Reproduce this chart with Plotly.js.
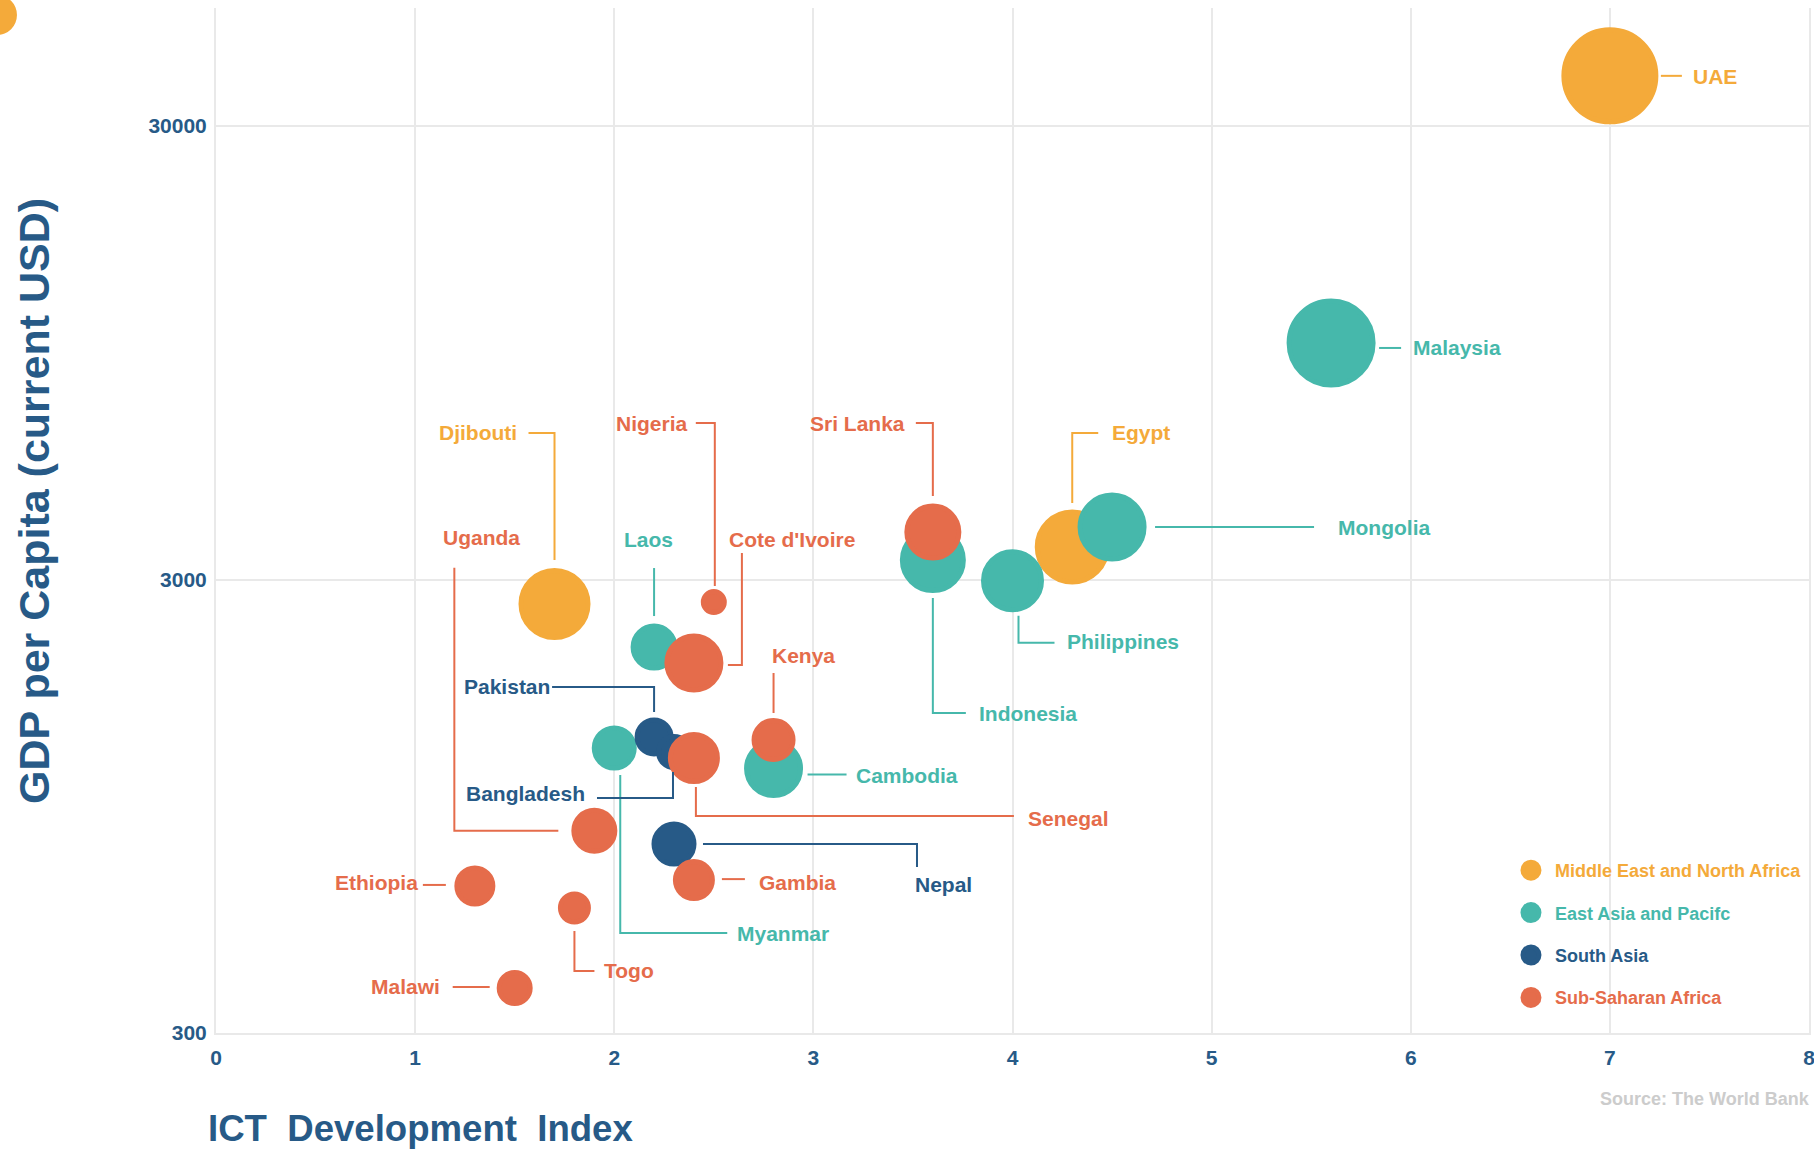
<!DOCTYPE html>
<html>
<head>
<meta charset="utf-8">
<script src="https://cdn.plot.ly/plotly-3.0.1.min.js"></script>
<style>
  html, body { margin: 0; padding: 0; background: #ffffff; }
  #chart { width: 1814px; height: 1152px; }
</style>
</head>
<body>
<div id="chart"></div>
<script>
// ---------------- DATA ----------------
const regions = ["Middle East and North Africa", "East Asia and Pacifc", "South Asia", "Sub-Saharan Africa"];

const countries = ["UAE", "Egypt", "Djibouti",
  "Malaysia", "Mongolia", "Philippines", "Indonesia", "Laos", "Cambodia", "Myanmar",
  "Pakistan", "Bangladesh", "Nepal", "Sri Lanka",
  "Nigeria", "Cote d'Ivoire", "Kenya", "Senegal", "Uganda", "Gambia", "Ethiopia", "Togo", "Malawi"];

const countryRegion = [0, 0, 0,
  1, 1, 1, 1, 1, 1, 1,
  2, 2, 2, 3,
  3, 3, 3, 3, 3, 3, 3, 3, 3];

// ICT Development Index
const ictIndex = [7.0, 4.3, 1.7,
  5.6, 4.5, 4.0, 3.6, 2.2, 2.8, 2.0,
  2.2, 2.3, 2.3, 3.6,
  2.5, 2.4, 2.8, 2.4, 1.9, 2.4, 1.3, 1.8, 1.5];

// GDP per capita (current USD)
const gdpPerCapita = [38700, 3540, 2650,
  9970, 3915, 2980, 3311, 2129, 1149, 1275,
  1348, 1249, 783, 3816,
  2675, 1963, 1328, 1212, 838, 652, 633, 566, 377];

// bubble size (marker diameter)
const bubbleSize = [97, 75, 72,
  89, 69, 63, 66, 47, 59, 45,
  39, 36, 45, 57,
  26, 59, 44, 52, 46, 42, 41, 33, 36];

const xTickVals = [0, 1, 2, 3, 4, 5, 6, 7, 8];
const yTickVals = [300, 3000, 30000];
const yTickText = ["300", "3000", "30000"];

// ---------------- STYLE / LAYOUT CONFIG ----------------
const regionColors = ["#F4AA3A", "#46B8AB", "#275A87", "#E56C4B"];
const NAVY = "#275A87";
const GRID = "#E9E9E9";
const FONT = "Liberation Sans, Arial, Helvetica, sans-serif";
const OUTLINE = 5; // marker outline (same colour as fill)

// label placement: offsets in pixels from bubble centre (dy positive = down)
const labelPlacement = {
  "UAE":          {dx: 81,   dy: 1,    anchor: "left",   path: [[51, 0], [72, 0]]},
  "Malaysia":     {dx: 80,   dy: 5,    anchor: "left",   path: [[48, 5], [70, 5]]},
  "Mongolia":     {dx: 224,  dy: 0,    anchor: "left",   path: [[43, 0], [202, 0]]},
  "Egypt":        {dx: 38,   dy: -114, anchor: "left",   path: [[0, -44], [0, -114], [26, -114]]},
  "Philippines":  {dx: 52,   dy: 61,   anchor: "left",   path: [[6, 35], [6, 62], [42, 62]]},
  "Sri Lanka":    {dx: -26,  dy: -109, anchor: "right",  path: [[0, -36], [0, -109], [-17, -109]]},
  "Indonesia":    {dx: 44,   dy: 153,  anchor: "left",   path: [[0, 38], [0, 153], [33, 153]]},
  "Djibouti":     {dx: -36,  dy: -171, anchor: "right",  path: [[0, -44], [0, -171], [-26, -171]]},
  "Nigeria":      {dx: -24,  dy: -179, anchor: "right",  path: [[1, -16], [1, -179], [-18, -179]]},
  "Laos":         {dx: -6,   dy: -108, anchor: "center", path: [[0, -31], [0, -79]]},
  "Cote d'Ivoire":{dx: 33,   dy: -124, anchor: "left",   path: [[48, -110], [48, 2], [34, 2]]},
  "Kenya":        {dx: -4,   dy: -85,  anchor: "left",   path: [[0, -27], [0, -67]]},
  "Cambodia":     {dx: 80,   dy: 7,    anchor: "left",   path: [[34, 6], [73, 6]]},
  "Pakistan":     {dx: -102, dy: -51,  anchor: "right",  path: [[-102, -50], [0, -50], [0, -25]]},
  "Myanmar":      {dx: 121,  dy: 185,  anchor: "left",   path: [[6, 27], [6, 185], [113, 185]]},
  "Bangladesh":   {dx: -87,  dy: 41,   anchor: "right",  path: [[-77, 46], [-1, 46], [-1, 20]]},
  "Senegal":      {dx: 332,  dy: 60,   anchor: "left",   path: [[2, 29], [2, 58], [320, 58]]},
  "Uganda":       {dx: -153, dy: -293, anchor: "left",   path: [[-140, -263], [-140, 0], [-36, 0]]},
  "Nepal":        {dx: 239,  dy: 40,   anchor: "left",   path: [[29, 0], [243, 0], [243, 23]]},
  "Gambia":       {dx: 63,   dy: 2,    anchor: "left",   path: [[28, -1], [51, -1]]},
  "Ethiopia":     {dx: -55,  dy: -3,   anchor: "right",  path: [[-52, -1], [-29, -1]]},
  "Togo":         {dx: 28,   dy: 63,   anchor: "left",   path: [[0, 23], [0, 63], [20, 63]]},
  "Malawi":       {dx: -73,  dy: -2,   anchor: "right",  path: [[-62, -1], [-25, -1]]}
};

// ---------------- BUILD ----------------
const traces = regions.map((reg, r) => {
  const idx = countries.map((c, i) => i).filter(i => countryRegion[i] === r);
  return {
    type: "scatter",
    mode: "markers",
    name: '<span style="color:' + regionColors[r] + '">' + reg + '</span>',
    legendgroup: reg,
    x: idx.map(i => ictIndex[i]),
    y: idx.map(i => gdpPerCapita[i]),
    text: idx.map(i => countries[i]),
    hovertemplate: "%{text}<br>ICT: %{x}<br>GDP: %{y}<extra></extra>",
    marker: {
      color: regionColors[r],
      size: idx.map(i => bubbleSize[i] - OUTLINE),
      sizemode: "diameter",
      sizeref: 1,
      opacity: 1,
      line: {color: regionColors[r], width: OUTLINE}
    }
  };
});

const annotations = [];
const shapes = [];

countries.forEach((c, i) => {
  const p = labelPlacement[c];
  if (!p) return;
  const col = regionColors[countryRegion[i]];
  annotations.push({
    xref: "x", yref: "y",
    x: ictIndex[i], y: Math.log10(gdpPerCapita[i]),
    xshift: p.dx, yshift: -p.dy,
    xanchor: p.anchor, yanchor: "middle",
    showarrow: false,
    text: c,
    font: {family: FONT, size: 21, color: col, weight: 700}
  });
  const d = p.path.map((pt, k) => (k === 0 ? "M" : "L") + pt[0] + "," + (-pt[1])).join(" ");
  shapes.push({
    type: "path",
    xref: "x", yref: "y",
    xsizemode: "pixel", ysizemode: "pixel",
    xanchor: ictIndex[i], yanchor: gdpPerCapita[i],
    path: d,
    line: {color: col, width: 2},
    layer: "above"
  });
});

// partial orange dot in the top-left corner
shapes.push({
  type: "circle",
  xref: "paper", yref: "paper",
  xsizemode: "pixel", ysizemode: "pixel",
  xanchor: -0.1375, yanchor: 0.99317,
  x0: -20, x1: 20, y0: -20, y1: 20,
  fillcolor: regionColors[0],
  line: {width: 0}
});

// axis titles and source
annotations.push({
  xref: "paper", yref: "paper",
  x: -0.006, y: -0.0927,
  xanchor: "left", yanchor: "middle",
  showarrow: false,
  text: "ICT \u00A0Development \u00A0Index",
  font: {family: FONT, size: 36.6, color: NAVY, weight: 700}
});
annotations.push({
  xref: "paper", yref: "paper",
  x: -0.1146, y: 0.5195,
  xanchor: "center", yanchor: "middle",
  textangle: -90,
  showarrow: false,
  text: "GDP per Capita (current USD)",
  font: {family: FONT, size: 43, color: NAVY, weight: 700}
});
annotations.push({
  xref: "paper", yref: "paper",
  x: 0.8675, y: -0.0644,
  xanchor: "left", yanchor: "middle",
  showarrow: false,
  text: "Source: The World Bank",
  font: {family: FONT, size: 18, color: "#CCCCCC", weight: 700}
});

const layout = {
  width: 1814,
  height: 1152,
  margin: {l: 216, r: 5, t: 8, b: 119},
  paper_bgcolor: "#ffffff",
  plot_bgcolor: "#ffffff",
  font: {family: FONT, color: NAVY},
  showlegend: true,
  hovermode: "closest",
  xaxis: {
    range: [0, 8],
    tickvals: xTickVals,
    ticks: "",
    showgrid: true,
    gridcolor: GRID,
    gridwidth: 2,
    zeroline: false,
    showline: true,
    linecolor: GRID,
    linewidth: 2,
    ticklabelstandoff: 5,
    ticklabeloverflow: "allow",
    tickfont: {family: FONT, size: 21, color: NAVY, weight: 700}
  },
  yaxis: {
    type: "log",
    range: [Math.log10(300), 4.7373],
    tickvals: yTickVals,
    ticktext: yTickText,
    ticks: "",
    showgrid: true,
    gridcolor: GRID,
    gridwidth: 2,
    zeroline: false,
    showline: true,
    mirror: true,
    linecolor: GRID,
    linewidth: 2,
    ticklabelstandoff: 3,
    tickfont: {family: FONT, size: 21, color: NAVY, weight: 700}
  },
  legend: {
    x: 0.8104, y: 0.1766,
    xanchor: "left", yanchor: "top",
    traceorder: "grouped",
    tracegroupgap: 16,
    itemwidth: 38,
    bgcolor: "rgba(0,0,0,0)",
    font: {family: FONT, size: 18, weight: 700}
  },
  annotations: annotations,
  shapes: shapes
};

Plotly.newPlot("chart", traces, layout, {displayModeBar: false, responsive: false});
</script>
</body>
</html>
